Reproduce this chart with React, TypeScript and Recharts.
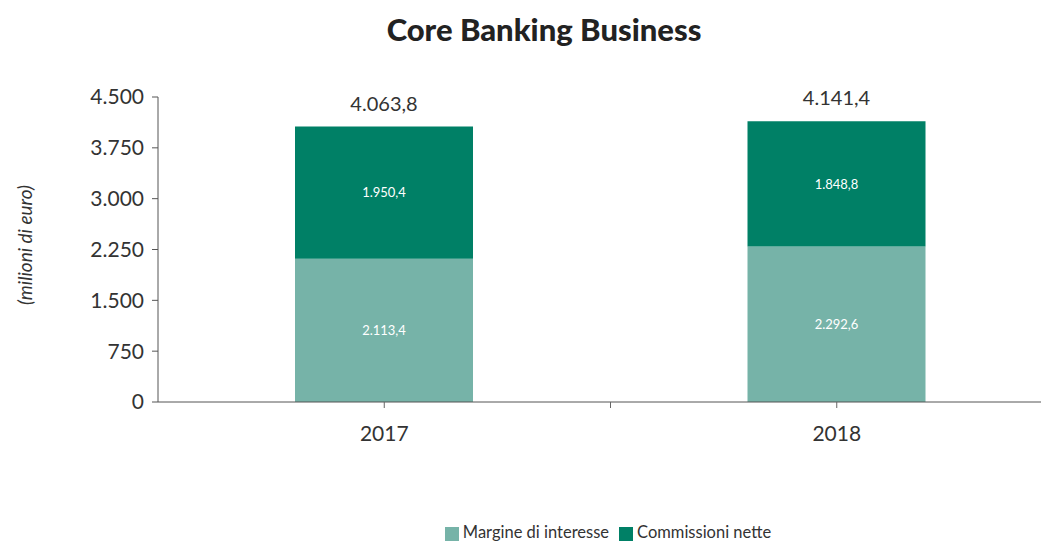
import React from 'react';
import { BarChart, Bar, XAxis, YAxis, Legend, LabelList } from 'recharts';

const years = ['2017', '2018'];
const margineInteresse = [2113.4, 2292.6];
const commissioniNette = [1950.4, 1848.8];
const yTicks = [0, 750, 1500, 2250, 3000, 3750, 4500];

const LIGHT = '#76b3a8';
const DARK = '#008066';
const FONT = 'Lato, "Open Sans", sans-serif';

// italian style: 4.063,8
const fmt = (v: number, dec = 0) => {
  const [int, frac] = v.toFixed(dec).split('.');
  const grouped = int.replace(/\B(?=(\d{3})+(?!\d))/g, '.');
  return frac ? `${grouped},${frac}` : grouped;
};

const data = years.map((y, i) => ({
  year: y,
  margine: margineInteresse[i],
  commissioni: commissioniNette[i],
  total: margineInteresse[i] + commissioniNette[i],
}));

const XTick = (props: any) => {
  const { x, y, payload, index } = props;
  const half = payload?.offset ?? 226;
  return (
    <g>
      <line x1={x} x2={x} y1={y - 8} y2={y - 2} stroke="#666" strokeWidth={1} />
      {index === 0 && (
        <line x1={x + half} x2={x + half} y1={y - 8} y2={y - 2} stroke="#666" strokeWidth={1} />
      )}
      <text x={x} y={y + 31} textAnchor="middle" fontSize={21} fill="#333" fontFamily={FONT}>
        {payload.value}
      </text>
    </g>
  );
};

export default function App() {
  return (
    <div style={{ position: 'relative', width: 1041, height: 534, overflow: 'hidden', fontFamily: FONT }}>
      <div
        style={{
          position: 'absolute',
          top: 4,
          left: 0,
          width: 1072,
          textAlign: 'center',
          fontSize: 31,
          fontWeight: 900,
          color: '#222',
          lineHeight: '34px',
        }}
      >
        Core Banking Business
      </div>
      <BarChart
        width={1055}
        height={534}
        data={data}
        margin={{ top: 89, right: 0, bottom: 80, left: 0 }}
        barCategoryGap={0}
      >
        <XAxis
          dataKey="year"
          axisLine={{ stroke: '#555' }}
          tickLine={false}
          tick={<XTick />}
          height={40}
        />
        <YAxis
          width={150}
          domain={[0, 4500]}
          ticks={yTicks}
          interval={0}
          tickFormatter={(v: number) => fmt(v)}
          axisLine={{ stroke: '#555' }}
          tickLine={{ stroke: '#555' }}
          tickSize={6}
          tick={{ fontSize: 21, fill: '#333', fontFamily: FONT, dx: -6 }}
          label={{
            content: () => (
              <text
                x={24}
                y={237}
                transform="rotate(-90 24 237)"
                textAnchor="middle"
                fontSize={19}
                fontStyle="italic"
                fill="#333"
                fontFamily={FONT}
              >
                (milioni di euro)
              </text>
            ),
          }}
        />
        <Legend
          verticalAlign="bottom"
          align="center"
          iconType="square"
          iconSize={14}
          itemSorter={null}
          wrapperStyle={{ bottom: 0, left: 0, width: 1210, fontSize: 16.5, fontFamily: FONT }}
          formatter={(value: string) => <span style={{ color: '#333' }}>{value}</span>}
        />
        <Bar dataKey="margine" name="Margine di interesse" stackId="a" fill={LIGHT} barSize={178} isAnimationActive={false}>
          <LabelList
            dataKey="margine"
            position="center"
            fill="#fff"
            fontSize={13}
            formatter={(v: any) => fmt(Number(v), 1)}
          />
        </Bar>
        <Bar dataKey="commissioni" name="Commissioni nette" stackId="a" fill={DARK} barSize={178} isAnimationActive={false}>
          <LabelList
            dataKey="commissioni"
            position="center"
            fill="#fff"
            fontSize={13}
            formatter={(v: any) => fmt(Number(v), 1)}
          />
          <LabelList
            dataKey="total"
            position="top"
            offset={16}
            fill="#333"
            fontSize={20}
            formatter={(v: any) => fmt(Number(v), 1)}
          />
        </Bar>
      </BarChart>
    </div>
  );
}
